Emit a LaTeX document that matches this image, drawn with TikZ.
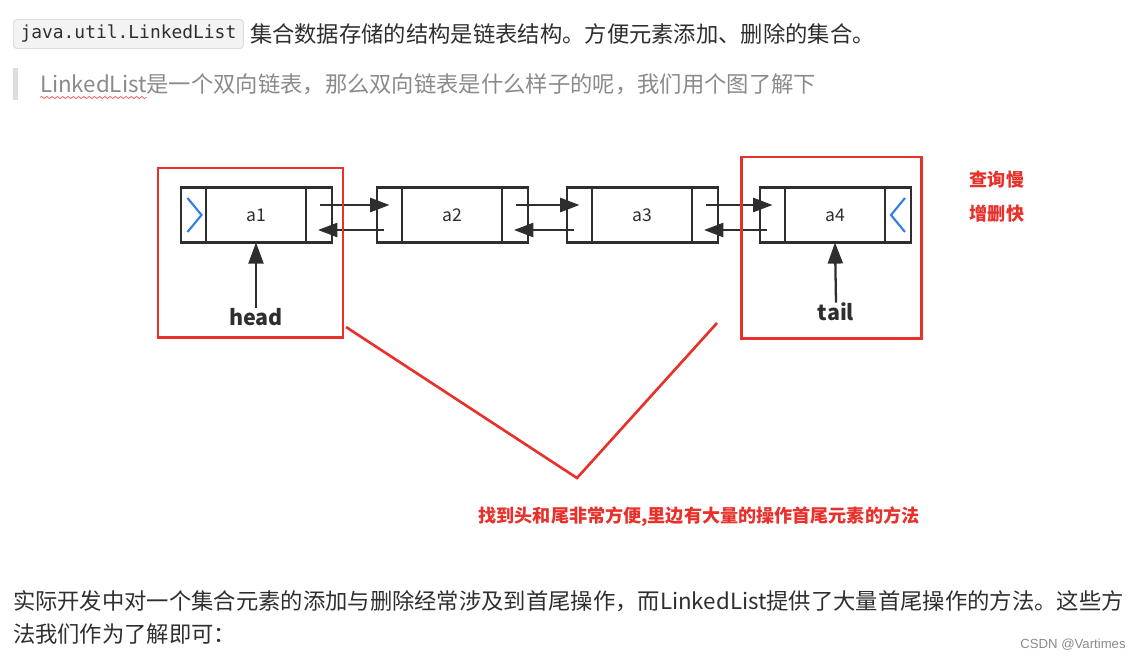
\documentclass[tikz,border=0pt]{standalone}
\usepackage{fontspec}
\setmainfont{Noto Sans CJK SC}
\setmonofont{DejaVu Sans Mono}
\newfontfamily\markfont{Liberation Sans}
\usepackage{xcolor}
\usetikzlibrary{arrows.meta, positioning, calc, fit, decorations.pathmorphing}

\definecolor{inkGray}{HTML}{2E2E2E}
\definecolor{quoteGray}{HTML}{8A8A8A}
\definecolor{barGray}{HTML}{DDDDDD}
\definecolor{codeFill}{HTML}{F3F3F3}
\definecolor{codeLine}{HTML}{DEDEDE}
\definecolor{noteRed}{HTML}{E8312B}
\definecolor{ptrBlue}{HTML}{2F7FE6}

\begin{document}
\begin{tikzpicture}[
    x=0.02cm, y=-0.02cm,
    font=\fontsize{12.7}{15}\selectfont,
    para/.style={inner sep=0pt, outer sep=0pt, text=inkGray, anchor=base west},
    codebox/.style={draw=codeLine, fill=codeFill, rounded corners=2pt, line width=0.6pt,
        minimum height=0.56cm, inner xsep=4pt, font=\ttfamily\fontsize{10.2}{12}\selectfont, text=inkGray},
    datacell/.style={draw=inkGray, line width=1.3pt, minimum width=2cm, minimum height=1.1cm,
        inner sep=0pt, outer sep=0pt, font=\fontsize{10}{12}\selectfont, text=inkGray},
    ptrcell/.style={draw=inkGray, line width=1.3pt, minimum width=0.5cm, minimum height=1.1cm,
        inner sep=0pt, outer sep=0pt},
    link/.style={draw=inkGray, line width=1.3pt, -{Triangle[length=11pt,width=8pt]}},
    chevron/.style={draw=ptrBlue, line width=1.2pt},
    ptrlabel/.style={font=\bfseries\fontsize{12.2}{14}\selectfont, text=inkGray, inner sep=0pt},
    redbox/.style={draw=noteRed, line width=1.7pt, inner sep=0pt},
    redline/.style={draw=noteRed, line width=1.5pt},
    rednote/.style={font=\bfseries\fontsize{10.3}{12}\selectfont, text=noteRed, inner sep=0pt}
]
\useasboundingbox (0,0) rectangle (1139,660);

% top lines of text
\node[codebox, anchor=west] (code) at (13,34) {java.util.LinkedList};
\node[para] (intro) at (250,42.5) {集合数据存储的结构是链表结构。方便元素添加、删除的集合。};

\fill[barGray] (13,68) rectangle (18,100);
\node[para, text=quoteGray] (qlink) at (40,92.5) {LinkedList};
\node[para, text=quoteGray, right=0pt of qlink.base east, anchor=base west] (qrest)
    {是一个双向链表，那么双向链表是什么样子的呢，我们用个图了解下};
\draw[noteRed!70, line width=0.5pt, decorate,
      decoration={snake, segment length=3pt, amplitude=0.6pt}]
    ($(qlink.base west)+(0,5)$) -- ($(qlink.base east)+(0,5)$);

% list cells
\node[datacell] (a1) at (256,215) {a1};
\node[ptrcell, left=0pt of a1] (a1l) {};
\node[ptrcell, right=0pt of a1, minimum width=0.52cm] (a1r) {};

\node[datacell] (a2) at (452,215) {a2};
\node[ptrcell, left=0pt of a2] (a2l) {};
\node[ptrcell, right=0pt of a2, minimum width=0.52cm] (a2r) {};

\node[datacell] (a3) at (642,215) {a3};
\node[ptrcell, left=0pt of a3] (a3l) {};
\node[ptrcell, right=0pt of a3, minimum width=0.52cm] (a3r) {};

\node[datacell] (a4) at (835,215) {a4};
\node[ptrcell, left=0pt of a4] (a4l) {};
\node[ptrcell, right=0pt of a4, minimum width=0.52cm] (a4r) {};

% empty ends
\draw[chevron] ($(a1l.center)+(-6,-17)$) -- ++(14,17) -- ++(-14,17);
\draw[chevron] ($(a4r.center)+(7,-17)$) -- ++(-14,17) -- ++(14,17);

% next and prev links
\foreach \from/\to in {1/2, 2/3, 3/4} {
    \draw[link] ($(a\from r.center)+(1,-10)$) -- ($(a\to l.center)+(0,-10)$);
    \draw[link] ($(a\to l.center)+(-6,15)$) -- ($(a\from r.center)+(-1,15)$);
}

% head and tail
\node[ptrlabel] (head) at (256,317) {head};
\draw[link, -{Triangle[length=12pt,width=8.5pt]}] (head.north) -- (a1.south);
\node[ptrlabel] (tail) at (836,312) {tail};
\draw[link, -{Triangle[length=12pt,width=8.5pt]}] (tail.north) -- (a4.south);

% notes
\node[redbox, fit={(158,168) (343,337)}] (headbox) {};
\node[redbox, fit={(741,157) (921,338)}] (tailbox) {};
\coordinate (vleft) at (346,327);
\coordinate (vtip) at (577,478);
\coordinate (vright) at (717,323);
\draw[redline] (vleft) -- (vtip) -- (vright);

\node[rednote] (slow) at (997,180) {查询慢};
\node[rednote] (fast) at (997,214) {增删快};
\node[rednote] (summary) at (699,517) {找到头和尾非常方便,里边有大量的操作首尾元素的方法};

% closing text
\node[para] (outroA) at (13,609.5)
    {实际开发中对一个集合元素的添加与删除经常涉及到首尾操作，而LinkedList提供了大量首尾操作的方法。这些方};
\node[para] (outroB) at (13,642.5) {法我们作为了解即可：};
\node[inner sep=0pt, anchor=east, text=quoteGray, font=\markfont\fontsize{7.5}{9}\selectfont]
    (mark) at (1126,645) {CSDN @Vartimes};
\end{tikzpicture}
\end{document}
